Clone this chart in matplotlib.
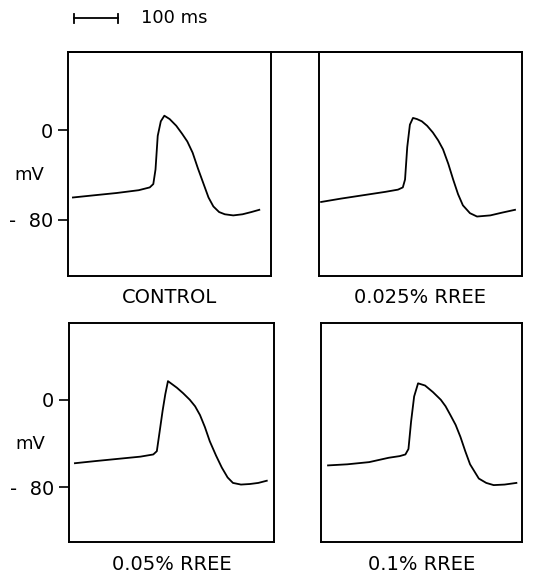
import matplotlib
matplotlib.use('Agg')
import matplotlib.pyplot as plt
from matplotlib.lines import Line2D

# traces: time (ms) and membrane potential (mV)
control_t = [11, 60, 110, 160, 185, 193, 198, 203, 210, 218, 230, 245, 258, 270,
             282, 294, 306, 318, 329, 342, 355, 374, 395, 415, 433]
control_v = [-60, -58, -56, -53.5, -51, -48, -35, -5, 8, 13, 10, 4, -3, -10,
             -20, -34, -47, -60, -68, -73, -75, -76, -75, -73, -71]

rree025_t = [5, 50, 100, 150, 179, 190, 195, 200, 206, 213, 222, 233, 245, 258,
             270, 281, 293, 304, 315, 326, 342, 358, 388, 415, 444]
rree025_v = [-64, -61, -58, -55, -53, -51, -44, -15, 5, 11, 10, 8, 4, -2,
             -9, -17, -30, -44, -57, -67, -74, -77, -76, -73.5, -71]

rree05_t = [13, 60, 110, 160, 189, 197, 203, 210, 216, 222, 232, 242, 256, 271,
            283, 294, 305, 316, 330, 343, 356, 368, 386, 406, 425, 444]
rree05_v = [-58, -56, -54, -52, -50, -47, -30, -10, 5, 17, 14, 11, 6, 0,
            -6, -14, -25, -38, -51, -62, -71, -76, -77.5, -77, -76, -74]

rree1_t = [16, 60, 110, 155, 180, 193, 200, 206, 213, 222, 238, 256, 274, 285,
           296, 308, 319, 330, 341, 361, 378, 395, 420, 447]
rree1_v = [-60, -59, -57, -53, -51.5, -50, -45, -20, 3, 15, 13, 7, 0, -6,
           -14, -23, -34, -47, -59, -72, -76, -78, -77.5, -76]

labels = ['CONTROL', '0.025% RREE', '0.05% RREE', '0.1% RREE']
yticks = [0, -80]
ytick_labels = ['0', '-  80']

fig = plt.figure(figsize=(5.36, 5.76), dpi=100)

# [left, bottom, width, height] in figure fractions
positions = [
    [0.127, 0.521, 0.379, 0.389],
    [0.595, 0.521, 0.379, 0.389],
    [0.129, 0.059, 0.382, 0.380],
    [0.599, 0.059, 0.375, 0.380],
]
traces = [(control_t, control_v), (rree025_t, rree025_v),
          (rree05_t, rree05_v), (rree1_t, rree1_v)]

for i, (pos, (t, v), lab) in enumerate(zip(positions, traces, labels)):
    ax = fig.add_axes(pos)
    ax.plot(t, v, color='black', linewidth=1.3)
    ax.set_xlim(0, 460)
    ax.set_ylim(-130, 70)
    ax.set_xticks([])
    for s in ax.spines.values():
        s.set_linewidth(1.4)
    if i % 2 == 0:
        ax.set_yticks(yticks)
        ax.set_yticklabels(ytick_labels, fontsize=14)
        ax.tick_params(axis='y', direction='out', length=7, width=1.2, pad=4)
        ax.text(-0.19, -40, 'mV', transform=ax.get_yaxis_transform(),
                ha='center', va='center', fontsize=13)
    else:
        ax.set_yticks([])
    ax.set_xlabel(lab, fontsize=14, labelpad=9)

# top border running across the gap between the upper panels
fig.add_artist(Line2D([0.127, 0.974], [0.910, 0.910], color='black', linewidth=1.4))

# 100 ms scale bar
ax0 = fig.axes[0]
trans = ax0.get_xaxis_transform()
ax0.plot([13, 113], [1.15, 1.15], color='black', linewidth=1.3, transform=trans, clip_on=False)
for xx in [13, 113]:
    ax0.plot([xx, xx], [1.13, 1.17], color='black', linewidth=1.3, transform=trans, clip_on=False)
ax0.text(165, 1.15, '100 ms', transform=trans, ha='left', va='center', fontsize=13)

fig.savefig('out.png', dpi=100)
